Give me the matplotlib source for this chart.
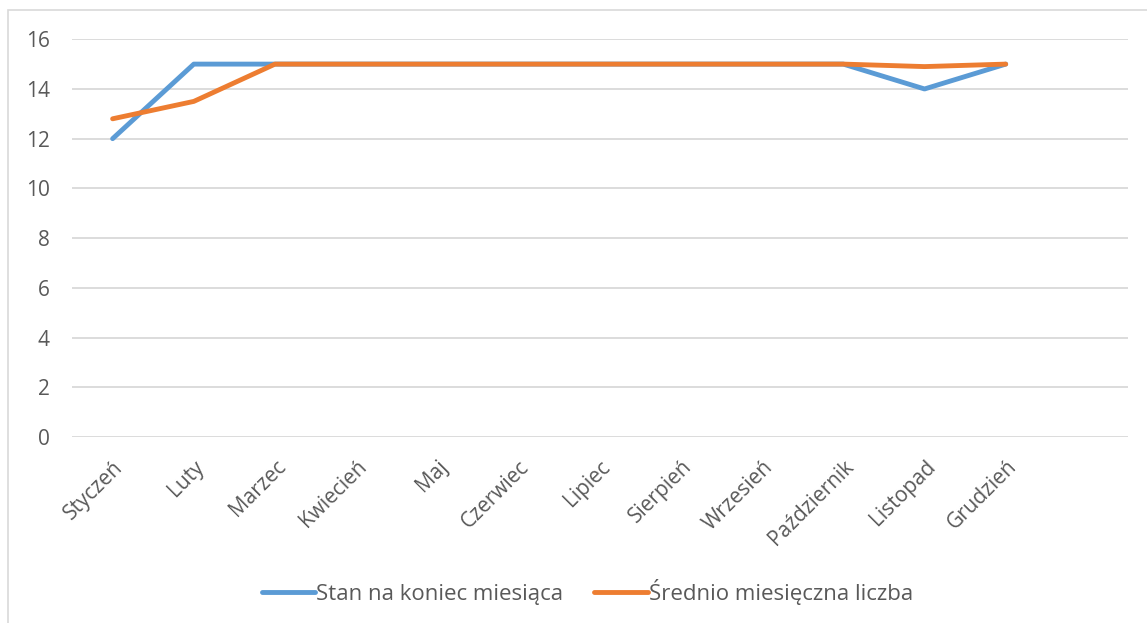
import numpy as np
import matplotlib.pyplot as plt
from matplotlib.patches import Rectangle

plt.rcParams['font.family'] = ['Open Sans', 'DejaVu Sans']

# month labels (13th slot left empty, as in the original sheet)
months = ['Styczeń', 'Luty', 'Marzec', 'Kwiecień', 'Maj', 'Czerwiec', 'Lipiec',
          'Sierpień', 'Wrzesień', 'Październik', 'Listopad', 'Grudzień']
stan = [12, 15, 15, 15, 15, 15, 15, 15, 15, 15, 14, 15]
srednio = [12.8, 13.5, 15, 15, 15, 15, 15, 15, 15, 15, 14.9, 15]
yticks = [0, 2, 4, 6, 8, 10, 12, 14, 16]

blue = '#5B9BD5'
orange = '#ED7D31'
grid = '#D9D9D9'
txt = '#595959'

fig = plt.figure(figsize=(11.47, 6.23), dpi=100)
ax = fig.add_axes([0.0628, 0.2986, 0.9202, 0.6384])

x = np.arange(len(months))
ax.plot(x, stan, color=blue, lw=3.5, solid_capstyle='round', solid_joinstyle='round',
        label='Stan na koniec miesiąca')
ax.plot(x, srednio, color=orange, lw=3.5, solid_capstyle='round', solid_joinstyle='round',
        label='Średnio miesięczna liczba')

ax.set_xlim(-0.5, len(months) + 0.5)
ax.set_ylim(0, 16)
ax.set_yticks(yticks)
ax.set_xticks(x)
ax.set_xticklabels(months, rotation=45, ha='right', rotation_mode='anchor')
ax.tick_params(axis='both', length=0, labelsize=15, colors=txt)
ax.tick_params(axis='y', pad=16)
ax.tick_params(axis='x', pad=14)
ax.grid(axis='y', color=grid, lw=1.3)
ax.set_axisbelow(True)
for s in ax.spines.values():
    s.set_visible(False)

leg = fig.legend(loc='center', bbox_to_anchor=(0.512, 0.05), ncol=2, frameon=False,
                 fontsize=16, handlelength=2.4, handletextpad=0.05, columnspacing=1.4)
for t in leg.get_texts():
    t.set_color(txt)

# outer chart border
fig.patches.append(Rectangle((8 / 1147, -0.1), 1.2, 1 - 10 / 623 + 0.1,
                             transform=fig.transFigure, fill=False,
                             edgecolor=grid, lw=1.2))

fig.savefig('out.png', dpi=100)
